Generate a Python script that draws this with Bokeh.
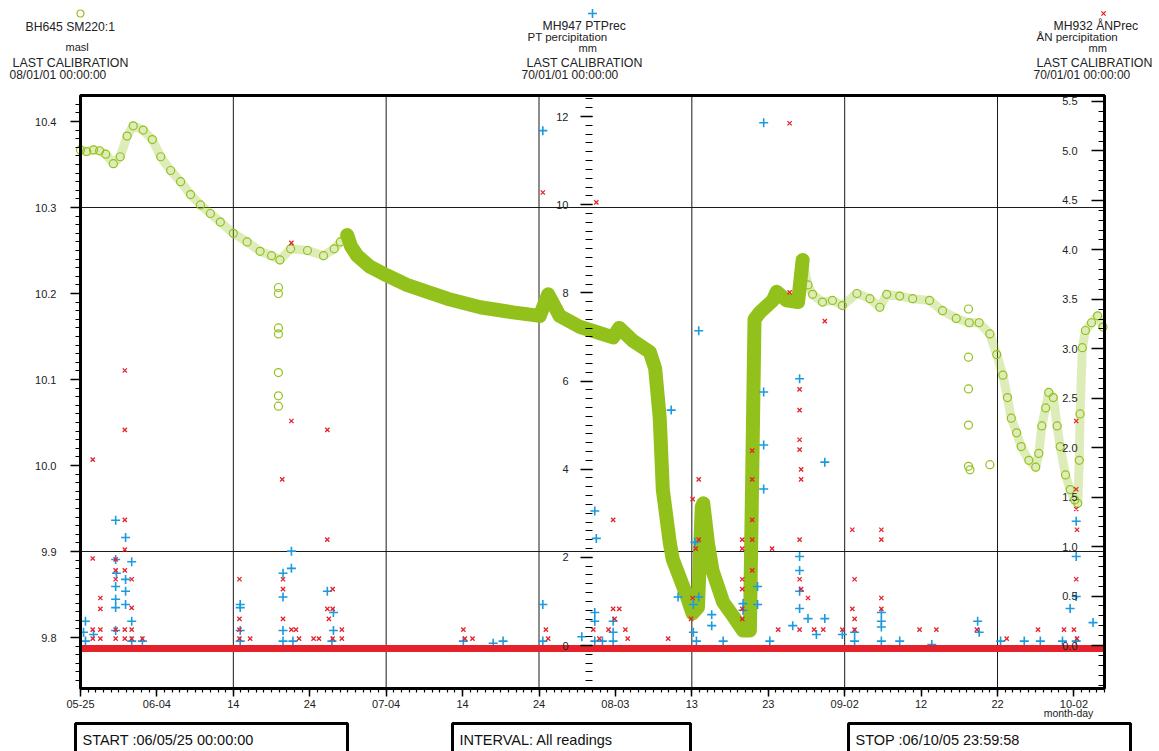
import numpy as np
from bokeh.plotting import figure
from bokeh.models import Range1d, LinearAxis, FixedTicker, PrintfTickFormatter
from bokeh.core.properties import value
from bokeh.embed import file_html
from bokeh.resources import INLINE

# ---------------- data (x = days after 2006-05-25 00:00) ----------------
span_days = 134  # 06/05/25 00:00 .. 06/10/05 23:59:58

date_tick_days = [0, 10, 20, 30, 40, 50, 60, 70, 80, 90, 100, 110, 120, 130]
date_labels = ["05-25", "06-04", "14", "24", "07-04", "14", "24", "08-03",
               "13", "23", "09-02", "12", "22", "10-02"]
grid_days = [20, 40, 60, 80, 100, 120]
grid_masl = [9.9, 10.3]

# BH645 SM220:1 water level, masl
level_days = [0.0, 0.8, 1.7, 2.5, 3.3, 4.3, 5.2, 6.1, 6.9, 8.2, 9.4, 10.5, 11.8, 13.1,
              14.4, 15.7, 17.0, 18.3, 20.0, 21.8, 23.5, 25.0, 26.1, 27.5, 29.7, 31.8,
              33.2, 34.0, 34.9, 35.4, 36.2, 37.9, 40.1, 42.7, 45.0, 48.0, 52.3, 56.6,
              60.1, 61.2, 62.7, 65.4, 67.6, 69.7, 70.5, 72.3, 74.5, 75.2, 75.8, 76.2,
              77.1, 77.5, 78.4, 79.3, 80.1, 80.8, 81.3, 81.5, 82.1, 82.7, 84.1, 85.4,
              86.7, 87.6, 87.8, 87.9, 88.0, 88.05, 88.1, 88.15, 88.2, 88.9, 90.6, 91.1,
              92.4, 93.9, 94.5, 95.2, 95.8, 97.1, 98.4, 99.7, 101.6, 103.3, 104.6, 105.5,
              107.2, 108.9, 111.1, 112.8, 114.6, 116.3, 117.6, 119.0, 119.9, 120.7, 121.3,
              121.8, 122.5, 123.1, 124.1, 125.0, 125.4, 125.8, 126.3, 126.7, 127.3, 127.8,
              128.2, 128.9, 129.5, 130.1, 130.5, 130.7, 130.8, 131.1, 131.5, 132.3, 133.1,
              133.8]
level_masl = [10.367, 10.365, 10.367, 10.366, 10.362, 10.351, 10.359, 10.383, 10.395,
              10.390, 10.379, 10.359, 10.343, 10.330, 10.315, 10.303, 10.293, 10.283,
              10.270, 10.260, 10.249, 10.244, 10.239, 10.252, 10.250, 10.244, 10.252,
              10.260, 10.268, 10.255, 10.244, 10.231, 10.221, 10.210, 10.203, 10.194,
              10.184, 10.178, 10.174, 10.199, 10.174, 10.161, 10.155, 10.149, 10.160,
              10.145, 10.132, 10.113, 10.055, 9.972, 9.911, 9.891, 9.870, 9.849, 9.828,
              9.835, 9.952, 9.956, 9.910, 9.878, 9.841, 9.825, 9.808, 9.808, 9.850,
              9.900, 9.950, 10.000, 10.060, 10.120, 10.170, 10.178, 10.192, 10.202,
              10.192, 10.190, 10.239, 10.210, 10.199, 10.190, 10.192, 10.186, 10.200,
              10.194, 10.184, 10.199, 10.197, 10.194, 10.192, 10.180, 10.171, 10.166,
              10.166, 10.153, 10.129, 10.105, 10.079, 10.055, 10.038, 10.022, 10.006,
              9.998, 10.014, 10.046, 10.067, 10.085, 10.079, 10.046, 10.022, 9.989,
              9.972, 9.960, 9.956, 10.006, 10.060, 10.137, 10.157, 10.166, 10.174,
              10.161]
# isolated low readings
spike_days = [25.9, 25.9, 25.9, 25.9, 25.9, 25.9, 25.9, 116.2, 116.2, 116.2, 116.2,
              116.2, 116.4, 119.0]
spike_masl = [10.207, 10.200, 10.160, 10.153, 10.108, 10.081, 10.069, 10.182, 10.126,
              10.089, 10.047, 9.999, 9.995, 10.001]

# MH947 PTPrec, PT percipitation, mm
pt_days = [0.4, 0.65, 0.65, 1.7, 4.6, 4.6, 4.7, 4.6, 4.6, 4.6, 4.6, 5.9, 5.9, 5.9, 5.9,
           6.7, 6.7, 6.7, 8.1, 20.9, 20.9, 20.9, 20.9, 26.5, 26.5, 26.5, 26.5, 27.6,
           27.6, 27.8, 32.3, 33.1, 33.1, 32.9, 50.1, 54.0, 55.3, 60.5, 60.5, 60.5, 65.6,
           67.3, 67.5, 67.3, 67.3, 67.3, 68.3, 69.7, 69.7, 69.7, 77.3, 78.2, 80.4, 80.9,
           80.9, 80.2, 80.2, 80.6, 82.6, 82.6, 84.1, 86.7, 86.7, 88.6, 88.6, 89.4, 89.4,
           89.4, 89.4, 90.2, 93.2, 94.1, 94.1, 94.1, 94.1, 94.1, 95.2, 96.3, 97.4, 97.4,
           99.7, 101.3, 101.3, 104.8, 104.8, 104.8, 104.8, 107.2, 111.4, 117.4, 117.6,
           120.4, 123.5, 125.6, 128.5, 129.5, 130.3, 130.3, 130.3, 130.3, 132.5]
pt_mm = [0.3, 0.55, 0.1, 0.25, 2.84, 1.95, 1.64, 1.34, 1.05, 0.86, 0.34, 2.45, 1.5, 1.23,
         0.93, 1.9, 0.55, 0.1, 0.1, 0.93, 0.86, 0.34, 0.1, 1.64, 1.1, 0.34, 0.1, 2.14,
         1.75, 0.1, 1.23, 0.75, 0.34, 0.1, 0.1, 0.05, 0.1, 11.68, 0.93, 0.1, 0.2, 3.05,
         2.43, 0.75, 0.55, 0.1, 0.1, 0.55, 0.3, 0.1, 5.34, 1.1, 2.34, 7.14, 1.1, 0.93,
         0.3, 0.1, 0.7, 0.45, 0.1, 0.95, 0.8, 1.34, 0.93, 11.86, 5.75, 4.55, 3.55, 0.1,
         0.45, 6.05, 2.02, 1.7, 1.23, 0.84, 0.61, 0.25, 4.16, 0.61, 0.25, 0.3, 0.1, 0.75,
         0.55, 0.42, 0.1, 0.1, 0.02, 0.55, 0.3, 0.1, 0.1, 0.1, 0.1, 0.84, 2.82, 2.02,
         1.11, 0.1, 0.52]

# MH932 ÅNPrec, ÅN percipitation, mm
an_days = [1.6, 1.6, 1.6, 1.6, 2.6, 2.6, 2.6, 2.6, 4.6, 4.6, 4.6, 4.6, 4.6, 5.8, 5.8,
           5.8, 5.8, 5.8, 5.8, 5.8, 6.7, 6.7, 6.7, 6.7, 8.1, 20.8, 20.8, 20.8, 20.8, 22.2,
           26.4, 26.5, 26.5, 26.5, 27.6, 27.6, 27.6, 28.2, 28.6, 30.5, 31.2, 32.3, 32.3,
           33.0, 32.3, 33.0, 32.5, 33.0, 34.2, 34.2, 50.1, 50.3, 51.3, 60.5, 60.9, 61.2,
           67.5, 67.1, 67.9, 69.7, 69.7, 70.5, 69.9, 69.1, 71.3, 71.6, 76.9, 80.1, 80.9,
           80.5, 80.9, 80.1, 79.9, 86.6, 86.6, 86.6, 86.6, 86.6, 86.6, 87.9, 87.9, 87.9,
           87.9, 87.9, 90.5, 91.3, 92.8, 92.8, 94.1, 94.1, 94.1, 94.1, 94.3, 94.3, 94.1,
           94.1, 94.3, 95.2, 94.1, 96.0, 97.2, 97.4, 99.7, 101.0, 101.3, 101.0, 101.3,
           101.3, 104.8, 104.8, 104.8, 104.8, 109.8, 112.0, 117.3, 121.2, 125.3, 130.3,
           130.3, 130.3, 130.4, 130.3, 128.7, 130.4, 130.0]
an_mm = [1.88, 0.88, 0.16, 0.07, 0.48, 0.37, 0.16, 0.07, 0.87, 0.76, 0.67, 0.16, 0.07,
         2.78, 2.18, 1.27, 0.97, 0.76, 0.16, 0.07, 0.67, 0.38, 0.16, 0.07, 0.07, 0.67,
         0.27, 0.16, 0.07, 0.07, 1.68, 0.67, 0.57, 0.27, 4.07, 2.27, 0.16, 0.16, 0.07,
         0.07, 0.07, 2.18, 1.07, 0.57, 0.37, 0.37, 0.27, 0.07, 0.16, 0.07, 0.16, 0.07,
         0.07, 4.58, 0.16, 0.07, 4.48, 0.16, 0.07, 1.27, 0.37, 0.37, 0.27, 0.16, 0.16,
         0.07, 0.07, 1.48, 1.68, 0.98, 1.07, 0.48, 0.27, 1.07, 0.98, 0.67, 0.57, 0.37,
         0.27, 1.97, 1.68, 1.27, 1.07, 0.76, 0.98, 0.16, 5.28, 3.57, 2.59, 2.38, 2.08,
         1.98, 1.78, 1.68, 1.07, 0.67, 0.57, 0.48, 0.16, 0.16, 0.16, 3.28, 0.16, 1.17,
         0.67, 0.37, 0.27, 0.16, 1.07, 1.17, 0.48, 0.37, 0.16, 0.16, 0.16, 0.07, 0.16,
         2.27, 1.58, 1.38, 1.17, 0.67, 0.16, 0.07, 0.16]
an_zero_days = [0, span_days]
an_zero_mm = [-0.03, -0.03]

left_ticks = [9.8, 9.9, 10.0, 10.1, 10.2, 10.3, 10.4]
pt_ticks = [0, 2, 4, 6, 8, 10, 12]
an_ticks = [0.0, 0.5, 1.0, 1.5, 2.0, 2.5, 3.0, 3.5, 4.0, 4.5, 5.0, 5.5]

# ---------------- geometry & styling ----------------
GREEN = "#93c11c"
BLUE = "#1b9ae0"
RED = "#e5222b"
FONT = "Liberation Sans"
TXT = "#222222"

W, H = 1159, 751
FL, FR, FT, FB = 80, 1104, 95, 688          # plot box in page pixels
PX_DAY = (FR - FL) / span_days
M_REF_PX, M_REF, PX_M = 121, 10.4, 860.0    # left scale: 10.4 masl at y=121
ZERO_PX, PX_PT, PX_AN = 645, 44.08, 98.91   # precipitation scales


def masl_at(py):
    return M_REF - (py - M_REF_PX) / PX_M


p = figure(width=W, height=H, output_backend="svg", toolbar_location=None,
           x_range=Range1d(-FL / PX_DAY, span_days + (W - FR) / PX_DAY),
           y_range=Range1d(masl_at(H), masl_at(0)),
           x_axis_location=None, y_axis_location=None, min_border=0,
           outline_line_color=None)
p.extra_x_ranges = {"px": Range1d(0, W)}
p.extra_y_ranges = {"px": Range1d(H, 0),
                    "pt": Range1d(-(H - ZERO_PX) / PX_PT, ZERO_PX / PX_PT),
                    "an": Range1d(-(H - ZERO_PX) / PX_AN, ZERO_PX / PX_AN)}
p.background_fill_color = "white"
p.border_fill_color = "white"
p.grid.visible = False


def style_axis(ax, mt, nt, sd, size="11px"):
    ax.axis_line_color = None
    ax.major_tick_out = mt
    ax.major_tick_in = 0
    ax.minor_tick_out = nt
    ax.minor_tick_in = 0
    ax.major_tick_line_width = 1.5
    ax.minor_tick_line_width = 1.2
    ax.major_label_standoff = sd
    ax.major_label_text_font = FONT
    ax.major_label_text_font_size = size
    ax.major_label_text_color = TXT


# x axis (dates) along the bottom of the box
xa = LinearAxis(y_range_name="px", fixed_location=FB,
                ticker=FixedTicker(ticks=date_tick_days,
                                   minor_ticks=list(range(0, span_days + 1))))
xa.major_label_overrides = {d: s for d, s in zip(date_tick_days, date_labels)}
style_axis(xa, 8, 4, 3)
p.add_layout(xa, "below")

# left axis (masl)
ya = LinearAxis(x_range_name="px", fixed_location=FL,
                ticker=FixedTicker(ticks=left_ticks,
                                   minor_ticks=[round(9.75 + 0.01 * i, 2) for i in range(68)]),
                formatter=PrintfTickFormatter(format="%.1f"))
style_axis(ya, 10, 5, 14)
p.add_layout(ya, "left")

# middle axis (PT mm)
mid = LinearAxis(x_range_name="px", y_range_name="pt", fixed_location=(FL + FR) / 2,
                 ticker=FixedTicker(ticks=pt_ticks,
                                    minor_ticks=[round(-0.8 + 0.2 * i, 1) for i in range(67)]),
                 formatter=PrintfTickFormatter(format="%d"))
style_axis(mid, 12, 7, 12)
p.add_layout(mid, "left")

# right axis (ÅN mm), labels inside the box
rgt = LinearAxis(x_range_name="px", y_range_name="an", fixed_location=FR,
                 ticker=FixedTicker(ticks=an_ticks,
                                    minor_ticks=[round(-0.4 + 0.1 * i, 1) for i in range(60)]),
                 formatter=PrintfTickFormatter(format="%.1f"))
style_axis(rgt, 13, 6, 14)
p.add_layout(rgt, "left")

# grid lines (inside the box only)
p.segment(x0=grid_days, x1=grid_days, y0=[masl_at(FB)] * len(grid_days),
          y1=[masl_at(FT)] * len(grid_days), line_color="#1a1a1a", line_width=1)
p.segment(x0=[0] * len(grid_masl), x1=[span_days] * len(grid_masl), y0=grid_masl,
          y1=grid_masl, line_color="#1a1a1a", line_width=1)

# level series
band = [i for i, d in enumerate(level_days) if 34.9 <= d <= 94.6 and not (87.7 < d < 88.2)]
p.line(level_days, level_masl, line_color=GREEN, line_width=9, line_alpha=0.3,
       line_join="round")
p.line([level_days[i] for i in band], [level_masl[i] for i in band],
       line_color=GREEN, line_width=14, line_join="round", line_cap="round")
p.scatter(level_days, level_masl, marker="circle", size=8, fill_color=None,
          line_color=GREEN, line_width=1.2)
p.scatter(spike_days, spike_masl, marker="circle", size=8, fill_color=None,
          line_color=GREEN, line_width=1.2)

# precipitation
p.scatter(pt_days, pt_mm, y_range_name="pt", marker="cross", size=9,
          line_color=BLUE, line_width=1.6)
p.scatter(an_days, an_mm, y_range_name="an", marker="x", size=6,
          line_color=RED, line_width=1.3)
p.line(an_zero_days, an_zero_mm, y_range_name="an", line_color=RED, line_width=7)

# box outline
p.quad(left=[FL], right=[FR], top=[FT], bottom=[FB], x_range_name="px",
       y_range_name="px", fill_color=None, line_color="black", line_width=3)


def txt(s, cx, cy, size, color=TXT, align="left"):
    p.text(x=[cx], y=[cy], text=[s], x_range_name="px", y_range_name="px",
           text_font=value(FONT), text_font_size=value(f"{size}px"),
           text_color=color, text_align=align, text_baseline="middle")


# header blocks
p.scatter(x=[80], y=[13], x_range_name="px", y_range_name="px", marker="circle",
          size=7, fill_color=None, line_color=GREEN, line_width=1.2)
txt("BH645 SM220:1", 25, 26, 12.2)
txt("masl", 65, 46, 11)
txt("LAST CALIBRATION", 12, 62, 12.4)
txt("08/01/01 00:00:00", 9, 74, 12)

p.scatter(x=[592], y=[13], x_range_name="px", y_range_name="px", marker="cross",
          size=9, line_color=BLUE, line_width=1.6)
txt("MH947 PTPrec", 542, 25, 12.2)
txt("PT percipitation", 527, 36, 11.5)
txt("mm", 578, 47, 11)
txt("LAST CALIBRATION", 526, 62, 12.4)
txt("70/01/01 00:00:00", 521, 74, 12)

p.scatter(x=[1103], y=[13], x_range_name="px", y_range_name="px", marker="x",
          size=6, line_color=RED, line_width=1.3)
txt("MH932 \u00c5NPrec", 1053, 25, 12.2)
txt("\u00c5N percipitation", 1036, 36, 11.5)
txt("mm", 1088, 47, 11)
txt("LAST CALIBRATION", 1036, 62, 12.4)
txt("70/01/01 00:00:00", 1033, 74, 12)

txt("month-day", 1068, 712, 10.5, TXT, "center")

# footer boxes
box_texts = ["START :06/05/25 00:00:00", "INTERVAL: All readings", "STOP :06/10/05 23:59:58"]
box_left = [75, 452, 848]
box_right = [347, 690, 1130]
p.quad(left=box_left, right=box_right, top=[723] * 3, bottom=[760] * 3,
       x_range_name="px", y_range_name="px", fill_color="white",
       line_color="black", line_width=3)
for s, l in zip(box_texts, box_left):
    txt(s, l + 7, 739, 14.5, "#111111")

open("out.html", "w").write(file_html(p, INLINE))
